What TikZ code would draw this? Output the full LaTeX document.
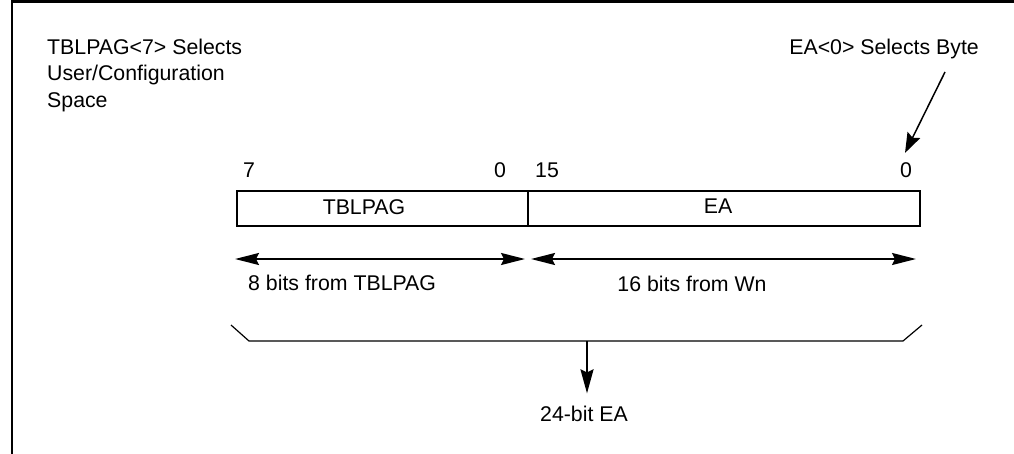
\documentclass[tikz,border=0pt]{standalone}
\usepackage{fontspec}
\setmainfont{Liberation Sans}
\usetikzlibrary{arrows.meta}
\begin{document}
\begin{tikzpicture}[x=1pt,y=-1pt,
  txt/.style={inner sep=0pt,font=\fontsize{21.3}{27}\selectfont},
  cell/.style={draw,line width=2.4pt},
  dimarrow/.style={line width=2pt,{Stealth[length=24pt,width=12pt,inset=3pt]}-{Stealth[length=24pt,width=12pt,inset=3pt]}},
  ptr/.style={line width=1.5pt,-{Stealth[length=20pt,width=14pt,inset=3pt]}},
  brace/.style={line width=1.2pt},
  frame/.style={line width=2.8pt}]
\useasboundingbox (0,0) rectangle (1014,453);
% frame
\draw[frame] (12,460) -- (12,1.4) -- (1020,1.4);
% left note
\node[txt,anchor=base west] (n1) at (47,54) {TBLPAG<7> Selects};
\node[txt,anchor=base west] (n2) at (47,80.7) {User/Configuration};
\node[txt,anchor=base west] (n3) at (47,107.4) {Space};
% right note
\node[txt,anchor=base east] (ea0) at (979,54) {EA<0> Selects Byte};
\coordinate (eaStart) at (945,72);
% bit numbers
\node[txt,anchor=base] (b7) at (249,177) {7};
\node[txt,anchor=base] (b0a) at (500,177) {0};
\node[txt,anchor=base] (b15) at (547,177) {15};
\node[txt,anchor=base] (b0b) at (906,177) {0};
\draw[ptr] (eaStart) -- ([xshift=-1pt,yshift=9pt]b0b.north);
% register boxes
\node[cell,minimum width=291pt,minimum height=35pt,inner sep=0pt,anchor=north west] (tbl) at (236,189.5) {};
\node[cell,minimum width=392pt,minimum height=35pt,inner sep=0pt,anchor=north west] (ea) at (527,189.5) {};
\node[txt,anchor=base] (tbllab) at (364,214) {TBLPAG};
\node[txt,anchor=base] (ealab) at (718,213) {EA};
% width arrows
\coordinate (a1l) at (235,259);
\coordinate (a1r) at (525,259);
\coordinate (a2l) at (531,259);
\coordinate (a2r) at (916,259);
\draw[dimarrow] (a1l) -- (a1r);
\draw[dimarrow] (a2l) -- (a2r);
\node[txt,anchor=base west] (w1) at (248,290) {8 bits from TBLPAG};
\node[txt,anchor=base] (w2) at (692,291) {16 bits from Wn};
% bracket
\coordinate (bl) at (231,325);
\coordinate (blc) at (249,341);
\coordinate (brc) at (903,341);
\coordinate (br) at (922,325);
\coordinate (bm) at (587,341);
\draw[brace] (bl) -- (blc) -- (brc) -- (br);
\node[txt,anchor=base] (res) at (584,421) {24-bit EA};
\draw[line width=2pt,-{Stealth[length=24pt,width=13pt,inset=3pt]}] (bm) -- ([yshift=12pt]res.north -| bm);
\end{tikzpicture}
\end{document}
